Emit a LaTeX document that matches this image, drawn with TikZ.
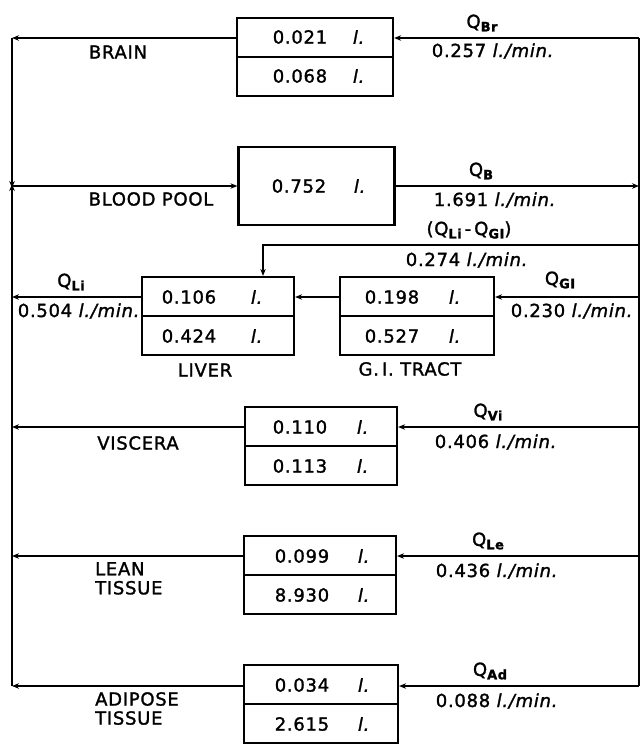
\documentclass[tikz,border=0pt]{standalone}
\usepackage{fontspec}
\setmainfont{DejaVu Sans}[LetterSpace=4,FakeBold=1.5]
\usetikzlibrary{arrows.meta}
\newcommand{\Qs}[1]{Q\raisebox{-0.35ex}{\fontsize{13}{12}\selectfont\bfseries #1}}
\newcommand{\lpm}{\textit{l./min.}}
\begin{document}
\begin{tikzpicture}[x=1pt,y=-1pt,
  flow/.style={line width=1.4pt},
  arr/.style={flow,-{Stealth[length=7pt,width=5.5pt]}},
  box/.style={draw,line width=2.2pt,minimum width=156pt,minimum height=78pt,inner sep=0pt},
  txt/.style={font=\fontsize{18}{20}\selectfont,inner sep=0pt},
  lab/.style={txt,align=left}
]
\useasboundingbox (0,0) rectangle (641,744);

% ---- boxes
\node[box] (brain) at (315,57) {};
\node[box] (blood) at (316.5,186) {};
\node[box,minimum width=152pt] (liver) at (218,316) {};
\node[box,minimum width=154pt] (gi) at (417,316) {};
\node[box,minimum width=152pt] (visc) at (321,446) {};
\node[box,minimum width=152pt] (lean) at (320,575) {};
\node[box,minimum width=154pt] (adip) at (321,704) {};

\foreach \b in {brain,liver,gi,visc,lean,adip}{
  \draw[line width=1.6pt] (\b.west) -- (\b.east);
}

% ---- box contents
\node[txt] (brainA) at (300,37) {0.021};   \node[txt] (brainAl) at (359,37) {\textit{l.}};
\node[txt] (brainB) at (300,76) {0.068};   \node[txt] (brainBl) at (359,76) {\textit{l.}};
\node[txt] (bloodA) at (299,186) {0.752};  \node[txt] (bloodAl) at (360,186) {\textit{l.}};
\node[txt] (liverA) at (189,297) {0.106};  \node[txt] (liverAl) at (257,297) {\textit{l.}};
\node[txt] (liverB) at (189,336) {0.424};  \node[txt] (liverBl) at (257,336) {\textit{l.}};
\node[txt] (giA) at (392,297) {0.198};     \node[txt] (giAl) at (455,297) {\textit{l.}};
\node[txt] (giB) at (392,336) {0.527};     \node[txt] (giBl) at (455,336) {\textit{l.}};
\node[txt] (viscA) at (300,427) {0.110};   \node[txt] (viscAl) at (363,427) {\textit{l.}};
\node[txt] (viscB) at (300,466) {0.113};   \node[txt] (viscBl) at (363,466) {\textit{l.}};
\node[txt] (leanA) at (302,556) {0.099};   \node[txt] (leanAl) at (364,556) {\textit{l.}};
\node[txt] (leanB) at (302,595) {8.930};   \node[txt] (leanBl) at (364,595) {\textit{l.}};
\node[txt] (adipA) at (302,685) {0.034};   \node[txt] (adipAl) at (364,685) {\textit{l.}};
\node[txt] (adipB) at (302,724) {2.615};   \node[txt] (adipBl) at (364,724) {\textit{l.}};

% ---- frame coordinates
\coordinate (L1) at (12,38);
\coordinate (Lb) at (12,186);
\coordinate (L2) at (12,297);
\coordinate (L3) at (12,427);
\coordinate (L4) at (12,556);
\coordinate (L5) at (12,686);
\coordinate (R1) at (639,38);
\coordinate (Rb) at (639,186);
\coordinate (Rq) at (639,245);
\coordinate (R2) at (639,297);
\coordinate (R3) at (639,427);
\coordinate (R4) at (639,556);
\coordinate (R5) at (639,686);
\coordinate (K) at (263,245);

% ---- verticals
\draw[arr] (L1) -- ([yshift=-2pt]Lb);
\draw[arr] (L5) -- ([yshift=2pt]Lb);
\draw[flow] (R1) -- (R5);

% ---- flows
\draw[arr] (Lb) -- (blood.west);
\draw[arr] (blood.east |- Rb) -- (Rb);
\draw[arr] (R1) -- (brain.east |- R1);
\draw[arr] (brain.west |- L1) -- (L1);
\draw[arr] (Rq) -- (K) -- (K |- liver.north);
\draw[arr] (R2) -- (gi.east |- R2);
\draw[arr] (gi.west |- R2) -- (liver.east |- R2);
\draw[arr] (liver.west |- L2) -- (L2);
\draw[arr] (R3) -- (visc.east |- R3);
\draw[arr] (visc.west |- L3) -- (L3);
\draw[arr] (R4) -- (lean.east |- R4);
\draw[arr] (lean.west |- L4) -- (L4);
\draw[arr] (R5) -- (adip.east |- R5);
\draw[arr] (adip.west |- L5) -- (L5);

% ---- labels
\node[txt] (tBrain) at (118,52) {BRAIN};
\node[txt] (tBlood) at (151,199) {BLOOD POOL};
\node[txt] (tLiver) at (205,370) {LIVER};
\node[txt] (tGi) at (410,369) {G.\,I. TRACT};
\node[txt] (tVisc) at (138,443) {VISCERA};
\node[lab,anchor=north west] (tLean) at (95,562) {LEAN\\[-1pt]TISSUE};
\node[lab,anchor=north west] (tAdip) at (95,692) {ADIPOSE\\[-1pt]TISSUE};

\node[txt] (qBr) at (482,23) {\Qs{Br}};
\node[txt] (vBr) at (493,51) {0.257 \lpm};
\node[txt] (qB) at (481,171) {\Qs{B}};
\node[txt] (vB) at (495,200) {1.691 \lpm};
\node[txt] (qLG) at (469,230) {(\Qs{Li}\,-\,\Qs{GI})};
\node[txt] (vLG) at (467,260) {0.274 \lpm};
\node[txt] (qGI) at (560,280) {\Qs{GI}};
\node[txt] (vGI) at (572,311) {0.230 \lpm};
\node[txt] (qLi) at (71,282) {\Qs{Li}};
\node[txt] (vLi) at (79,311) {0.504 \lpm};
\node[txt] (qVi) at (488,412) {\Qs{Vi}};
\node[txt] (vVi) at (496,442) {0.406 \lpm};
\node[txt] (qLe) at (488,541) {\Qs{Le}};
\node[txt] (vLe) at (497,571) {0.436 \lpm};
\node[txt] (qAd) at (490,671) {\Qs{Ad}};
\node[txt] (vAd) at (497,701) {0.088 \lpm};
\end{tikzpicture}
\end{document}
